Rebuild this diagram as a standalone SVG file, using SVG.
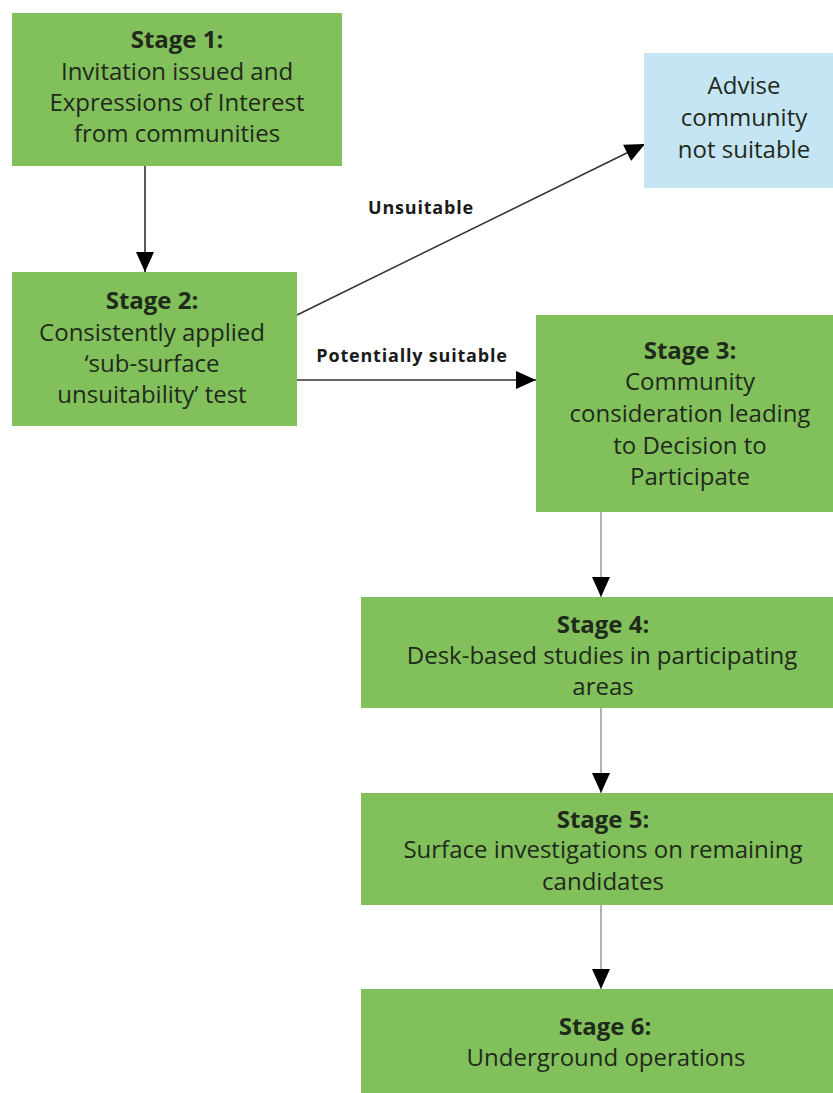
<svg xmlns="http://www.w3.org/2000/svg" width="833" height="1093" viewBox="0 0 833 1093">
<style>
.g{fill:#82c05b}
.b{fill:#c5e5f4}
.t{font-family:"Open Sans","Noto Sans",sans-serif;font-size:24px;fill:#1f2a1b;text-anchor:middle}
.h{font-weight:bold}
.l{font-family:"Open Sans","Noto Sans",sans-serif;font-size:18px;letter-spacing:0.8px;font-weight:bold;fill:#1a1a1a;text-anchor:middle}
.c{fill:none;stroke-width:1.5}
</style>
<defs>
<marker id="ah" markerUnits="userSpaceOnUse" markerWidth="20" markerHeight="20" viewBox="0 0 20 20" refX="20" refY="10" orient="auto">
<path d="M0,1 L20,10 L0,19 Z" fill="#000"/>
</marker>
</defs>
<rect width="833" height="1093" fill="#fff"/>
<g id="connectors">
<line class="c" x1="145" y1="166" x2="145" y2="272" stroke="#222" marker-end="url(#ah)"/>
<line class="c" x1="297" y1="315" x2="645" y2="144" stroke="#333" marker-end="url(#ah)"/>
<line class="c" x1="297" y1="380" x2="536" y2="380" stroke="#333" marker-end="url(#ah)"/>
<line class="c" x1="601" y1="512" x2="601" y2="597" stroke="#999" marker-end="url(#ah)"/>
<line class="c" x1="601" y1="708" x2="601" y2="793" stroke="#999" marker-end="url(#ah)"/>
<line class="c" x1="601" y1="905" x2="601" y2="989" stroke="#999" marker-end="url(#ah)"/>
<text class="l" x="421" y="214">Unsuitable</text>
<text class="l" x="412" y="362">Potentially suitable</text>
</g>
<g id="stage1">
<rect class="g" x="12" y="13" width="330" height="153"/>
<text class="t h" x="177" y="48">Stage 1:</text>
<text class="t" x="177" y="80">Invitation issued and</text>
<text class="t" x="177" y="111">Expressions of Interest</text>
<text class="t" x="177" y="142">from communities</text>
</g>
<g id="advise">
<rect class="b" x="644" y="53" width="189" height="135"/>
<text class="t" x="744" y="94">Advise</text>
<text class="t" x="744" y="126">community</text>
<text class="t" x="744" y="158">not suitable</text>
</g>
<g id="stage2">
<rect class="g" x="12" y="272" width="285" height="154"/>
<text class="t h" x="152" y="309">Stage 2:</text>
<text class="t" x="152" y="341">Consistently applied</text>
<text class="t" x="152" y="372">‘sub-surface</text>
<text class="t" x="152" y="403">unsuitability’ test</text>
</g>
<g id="stage3">
<rect class="g" x="536" y="315" width="297" height="197"/>
<text class="t h" x="690" y="359">Stage 3:</text>
<text class="t" x="690" y="390">Community</text>
<text class="t" x="690" y="422">consideration leading</text>
<text class="t" x="690" y="454">to Decision to</text>
<text class="t" x="690" y="485">Participate</text>
</g>
<g id="stage4">
<rect class="g" x="361" y="597" width="472" height="111"/>
<text class="t h" x="603" y="633">Stage 4:</text>
<text class="t" x="602" y="664">Desk-based studies in participating</text>
<text class="t" x="603" y="695">areas</text>
</g>
<g id="stage5">
<rect class="g" x="361" y="793" width="472" height="112"/>
<text class="t h" x="603" y="828">Stage 5:</text>
<text class="t" x="603" y="858">Surface investigations on remaining</text>
<text class="t" x="603" y="890">candidates</text>
</g>
<g id="stage6">
<rect class="g" x="361" y="989" width="472" height="104"/>
<text class="t h" x="605" y="1035">Stage 6:</text>
<text class="t" x="606" y="1066">Underground operations</text>
</g>
</svg>
